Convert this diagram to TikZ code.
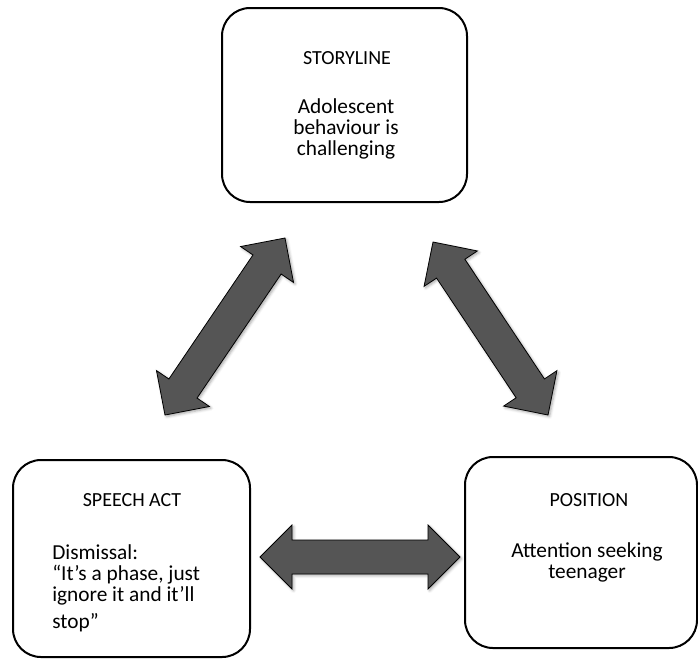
\documentclass[tikz,border=0pt]{standalone}
\usepackage{fontspec}
\setmainfont{Carlito}
\usetikzlibrary{calc,shadows.blur}

\definecolor{arrowgray}{RGB}{85,85,85}

\tikzset{
  box/.style={draw=black, line width=1.5pt, rounded corners=21pt, inner sep=0pt},
  heading/.style={font=\fontsize{15}{18}\selectfont, inner sep=0pt},
  body/.style={font=\fontsize{16}{16}\selectfont, inner sep=0pt},
  fatarrow/.style={draw=black, line width=0.6pt, fill=arrowgray, line join=miter,
    blur shadow={shadow xshift=1.2pt, shadow yshift=-1.2pt, shadow blur radius=2pt, shadow opacity=35}},
}

% Filled double-headed block arrow from one named coordinate to another
\newcommand{\doublefatarrow}[2]{%
  \path[fatarrow] let \p1=($(#2)-(#1)$), \n1={atan2(\y1,\x1)}, \n2={veclen(\x1,\y1)} in
    [shift={(#1)}, rotate=\n1]
    (0pt,0pt) -- (24pt,24pt) -- (24pt,12.75pt) -- ({\n2*1pt-24pt},12.75pt)
    -- ({\n2*1pt-24pt},24pt) -- ({\n2*1pt},0pt) -- ({\n2*1pt-24pt},-24pt)
    -- ({\n2*1pt-24pt},-12.75pt) -- (24pt,-12.75pt) -- (24pt,-24pt) -- cycle;%
}

\begin{document}
\begin{tikzpicture}[x=0.75pt, y=-0.75pt]
  \useasboundingbox (0,0) rectangle (698,658);

  % the three boxes
  \node[box, minimum width=183.75pt, minimum height=145.5pt] (storybox) at (344.5,105) {};
  \node[box, minimum width=177.75pt, minimum height=147.75pt] (speechbox) at (131.5,558.5) {};
  \node[box, minimum width=174pt, minimum height=143.25pt] (posbox) at (581,552.5) {};

  % box texts
  \node[heading] (storytitle) at (347,58) {STORYLINE};
  \node[body, align=center, anchor=north] (storytext) at (346,98)
    {Adolescent\\behaviour is\\challenging};

  \node[heading] (speechtitle) at (132,500) {SPEECH ACT};
  \node[body, align=left, anchor=north west] (speechtext) at (52,544)
    {Dismissal:\\“It’s a phase, just\\ignore it and it’ll\\[4pt]stop”};

  \node[heading] (postitle) at (589,500) {POSITION};
  \node[body, align=center, anchor=north] (postext) at (587,542)
    {Attention seeking\\teenager};

  % end points of the block arrows
  \coordinate (la) at (165,415);
  \coordinate (lb) at (285,238);
  \coordinate (ra) at (433,242);
  \coordinate (rb) at (548,415);
  \coordinate (ha) at (260,557);
  \coordinate (hb) at (460,557);

  \doublefatarrow{la}{lb}
  \doublefatarrow{ra}{rb}
  \doublefatarrow{ha}{hb}
\end{tikzpicture}
\end{document}
